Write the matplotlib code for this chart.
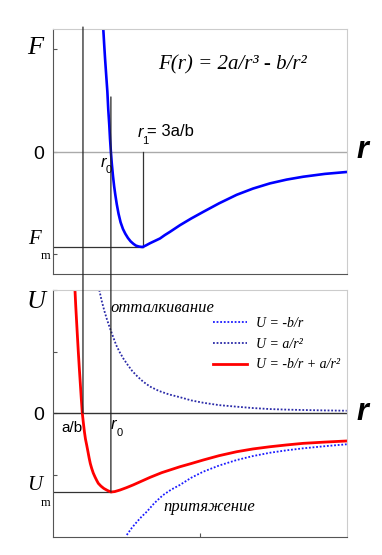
import numpy as np
import matplotlib.pyplot as plt
from matplotlib.patches import ConnectionPatch

# ---------------------------------
# Values
# (r in units of a/b ~ 1, F and U scaled so that Fm = Um = -1)
# ---------------------------------
r_ab = 1.02   # U = 0
r0 = 1.97     # F = 0, U minimum
r1 = 3.05     # F minimum
F_m = -1.0
U_m = -1.0

# force curve F(r)
r_F = [1.71, 1.74, 1.77, 1.81, 1.85, 1.88, 1.915, 1.94, 1.97, 2.00, 2.04, 2.08, 2.12,
       2.17, 2.23, 2.30, 2.38, 2.46, 2.55, 2.64, 2.73, 2.82, 2.92, 3.04, 3.15, 3.30,
       3.47, 3.64, 3.80, 3.98, 4.15, 4.32, 4.70, 5.11, 5.65, 6.25, 6.80, 7.38, 7.95,
       8.51, 9.25, 9.99]
F_vals = [1.30, 1.14, 0.99, 0.81, 0.635, 0.45, 0.284, 0.14, 0.0, -0.12, -0.25, -0.36,
          -0.45, -0.55, -0.65, -0.74, -0.81, -0.86, -0.905, -0.94, -0.965, -0.985,
          -0.995, -1.0, -0.985, -0.96, -0.935, -0.91, -0.875, -0.84, -0.805, -0.77,
          -0.70, -0.63, -0.54, -0.45, -0.385, -0.33, -0.29, -0.26, -0.23, -0.21]

# total potential U = -b/r + a/r^2
r_U = [0.748, 0.775, 0.80, 0.83, 0.861, 0.895, 0.93, 0.963, 0.997, 1.035, 1.07, 1.105,
       1.146, 1.19, 1.23, 1.27, 1.316, 1.37, 1.43, 1.49, 1.541, 1.63, 1.73, 1.85, 1.97,
       2.10, 2.28, 2.50, 2.73, 3.00, 3.30, 3.70, 4.32, 4.70, 5.11, 5.65, 6.25, 6.80,
       7.38, 7.95, 8.51, 9.25, 9.99]
U_vals = [1.557, 1.35, 1.18, 0.98, 0.776, 0.57, 0.37, 0.18, 0.0, -0.13, -0.24, -0.33,
          -0.405, -0.49, -0.57, -0.64, -0.70, -0.76, -0.81, -0.855, -0.89, -0.925,
          -0.955, -0.98, -1.0, -0.995, -0.975, -0.945, -0.91, -0.865, -0.815, -0.755,
          -0.68, -0.64, -0.595, -0.54, -0.49, -0.455, -0.427, -0.404, -0.384, -0.368,
          -0.354]

# repulsion a/r^2
r_rep = [1.575, 1.65, 1.75, 1.84, 1.939, 2.04, 2.15, 2.27, 2.39, 2.54, 2.70, 2.88, 3.07,
         3.30, 3.60, 3.95, 4.32, 4.70, 5.11, 5.65, 6.25, 6.80, 7.38, 7.95, 8.51, 9.25, 9.99]
U_rep = [1.557, 1.43, 1.29, 1.18, 1.072, 0.97, 0.86, 0.77, 0.692, 0.61, 0.53, 0.46,
         0.396, 0.335, 0.28, 0.235, 0.20, 0.16, 0.13, 0.10, 0.08, 0.063, 0.05, 0.043,
         0.038, 0.033, 0.029]

# attraction -b/r
r_att = [2.51, 2.68, 2.85, 3.02, 3.19, 3.45, 3.74, 4.02, 4.32, 4.70, 5.11, 5.65, 6.25,
         6.80, 7.38, 7.95, 8.51, 9.25, 9.99]
U_att = [-1.544, -1.455, -1.38, -1.31, -1.25, -1.14, -1.04, -0.97, -0.91, -0.82, -0.743,
         -0.665, -0.595, -0.545, -0.503, -0.472, -0.447, -0.42, -0.396]

legend_labels = ["U = -b/r", "U = a/r\u00b2", "U = -b/r + a/r\u00b2"]

# ---------------------------------
# Figure
# ---------------------------------
fig = plt.figure(figsize=(3.82, 5.55), dpi=100)
ax1 = fig.add_axes([0.1387, 0.5063, 0.7696, 0.4414])
ax2 = fig.add_axes([0.1387, 0.0324, 0.7696, 0.4450])

serif = "Liberation Serif"
sans = "Liberation Sans"
dark = "#555555"
light = "#cccccc"

for ax in (ax1, ax2):
    ax.set_xlim(0, 10.0)
    for s in ("left", "bottom"):
        ax.spines[s].set_color(dark)
    for s in ("top", "right"):
        ax.spines[s].set_color(light)
    ax.tick_params(direction="in", length=3, color=dark, labelleft=False, labelbottom=False)

ax1.set_ylim(-1.284, 1.295)
ax2.set_ylim(-1.570, 1.557)
ax1.set_yticks([1.084, 0, -1.074])
ax1.set_xticks([])
ax2.set_yticks([1.557, 0.772, 0, -0.785])
ax2.set_xticks([5.0])

# --- top panel: force ---
ax1.axhline(0, color="#aaaaaa", lw=1.0)
ax1.plot([0.05, r1], [F_m, F_m], color="#333333", lw=0.9)
ax1.plot([r1, r1], [0, F_m], color="#333333", lw=0.9)
ax1.plot(r_F, F_vals, color="#0000ff", lw=1.9)

ax1.text(-0.61, 1.095, "F", fontsize=19, family=serif, style="italic", ha="center", va="center")
ax1.text(-0.48, -0.03, "0", fontsize=14, family=sans, ha="center", va="center")
ax1.text(10.54, 0.02, "r", fontsize=22, family=sans, style="italic", weight="bold",
         ha="center", va="center")
ax1.text(-0.63, -0.92, "F", fontsize=15, family=serif, style="italic", ha="center", va="center")
ax1.text(-0.27, -1.09, "m", fontsize=9, family=serif, ha="center", va="center")
ax1.text(6.12, 0.916, "F(r) = 2a/r\u00b3 - b/r\u00b2", fontsize=15, family=serif, style="italic",
         ha="center", va="center")
ax1.text(2.96, 0.21, "r", fontsize=12, family=sans, style="italic", ha="center", va="center")
ax1.text(3.13, 0.116, "1", fontsize=8, family=sans, ha="center", va="center")
ax1.text(3.20, 0.22, "= 3a/b", fontsize=12, family=sans, ha="left", va="center")
ax1.text(1.73, -0.105, "r", fontsize=12, family=sans, style="italic", ha="center", va="center")
ax1.text(1.90, -0.19, "0", fontsize=8, family=sans, ha="center", va="center")

# --- bottom panel: potential ---
ax2.axhline(0, color="#333333", lw=1.0)
ax2.plot([0.05, r0], [U_m, U_m], color="#333333", lw=0.9)
l_att, = ax2.plot(r_att, U_att, color="#1a1aff", lw=1.3, ls=(0, (1, 1)))
l_rep, = ax2.plot(r_rep, U_rep, color="#2a2aa8", lw=1.3, ls=(0, (1, 1)))
l_tot, = ax2.plot(r_U, U_vals, color="#ff0000", lw=2.0)

ax2.text(-0.58, 1.405, "U", fontsize=19, family=serif, style="italic", ha="center", va="center")
ax2.text(-0.48, -0.03, "0", fontsize=14, family=sans, ha="center", va="center")
ax2.text(10.54, 0.01, "r", fontsize=22, family=sans, style="italic", weight="bold",
         ha="center", va="center")
ax2.text(-0.63, -0.92, "U", fontsize=15, family=serif, style="italic", ha="center", va="center")
ax2.text(-0.27, -1.14, "m", fontsize=9, family=serif, ha="center", va="center")
ax2.text(0.65, -0.19, "a/b", fontsize=11, family=sans, ha="center", va="center")
ax2.text(2.07, -0.15, "r", fontsize=12, family=sans, style="italic", ha="center", va="center")
ax2.text(2.28, -0.25, "0", fontsize=8, family=sans, ha="center", va="center")
ax2.text(1.94, 1.33, "отталкивание", fontsize=12, family=serif, style="italic",
         ha="left", va="center")
ax2.text(3.74, -1.19, "притяжение", fontsize=12, family=serif, style="italic",
         ha="left", va="center")

ax2.legend([l_att, l_rep, l_tot], legend_labels, loc="upper left",
           bbox_to_anchor=(0.545, 0.89), frameon=False, borderpad=0, borderaxespad=0,
           handlelength=2.45, handletextpad=0.6, labelspacing=0.55,
           prop={"family": serif, "style": "italic", "size": 10})

# --- guide lines crossing both panels ---
for xA, yA, yB in [(r_ab, 1.316, 0.0), (r0, 0.58, U_m)]:
    con = ConnectionPatch(xyA=(xA, yA), coordsA=ax1.transData,
                          xyB=(xA, yB), coordsB=ax2.transData,
                          color="#222222", lw=0.9)
    fig.add_artist(con)

fig.savefig("out.png", dpi=100)
